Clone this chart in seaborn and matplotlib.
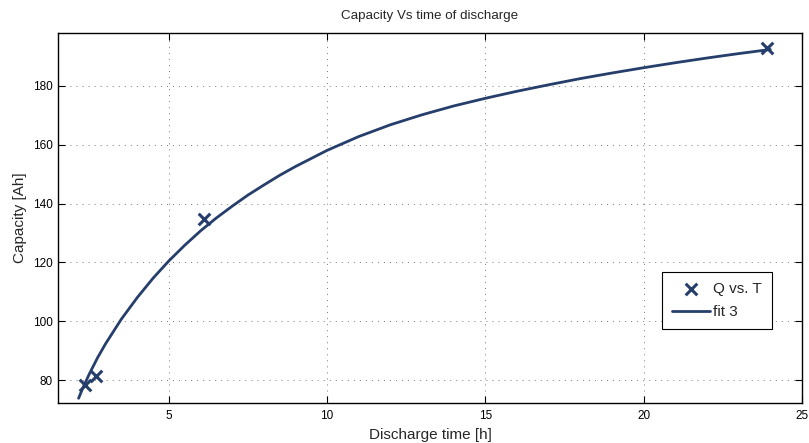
import matplotlib
matplotlib.use("Agg")
import matplotlib.pyplot as plt
import seaborn as sns
import pandas as pd

# measured data
time_h = [2.35, 2.7, 6.1, 23.9]
capacity_ah = [78.3, 81.4, 134.6, 192.9]

# fitted curve
fit_t = [2.15, 2.3, 2.5, 2.75, 3.0, 3.5, 4.0, 4.5, 5.0, 5.5, 6.0, 6.5, 7.0, 7.5,
         8.0, 8.5, 9.0, 10.0, 11.0, 12.0, 13.0, 14.0, 15.0, 16.0, 17.0, 18.0, 19.0,
         20.0, 21.0, 22.0, 23.0, 24.0]
fit_q = [73.8, 77.7, 82.3, 87.6, 92.3, 100.7, 108.0, 114.6, 120.5, 125.8, 130.7,
         135.1, 139.1, 142.9, 146.3, 149.6, 152.6, 158.1, 162.8, 166.8, 170.2, 173.2,
         175.8, 178.2, 180.4, 182.5, 184.4, 186.2, 187.9, 189.5, 191.0, 192.4]

x_ticks = [5, 10, 15, 20, 25]
y_ticks = [80, 100, 120, 140, 160, 180]

sns.set_theme(style="white")
plt.rcParams['font.family'] = ['Liberation Sans', 'DejaVu Sans']

color = "#263e6b"
fig = plt.figure(figsize=(8.09, 4.43), dpi=100)
ax = fig.add_axes([58/809, 1-403/443, (802-58)/809, (403-33)/443])

pts = pd.DataFrame({"t": time_h, "q": capacity_ah})
fit = pd.DataFrame({"t": fit_t, "q": fit_q})

sns.scatterplot(data=pts, x="t", y="q", marker="x", s=70, color=color,
                linewidth=2.2, ax=ax, label="Q vs. T", zorder=3)
sns.lineplot(data=fit, x="t", y="q", color=color, linewidth=2.0, ax=ax,
             label="fit 3", sort=True, estimator=None)

ax.set_xlim(1.5, 25)
ax.set_ylim(72.2, 198)
ax.set_xticks(x_ticks)
ax.set_yticks(y_ticks)
ax.tick_params(direction="in", length=5, width=0.8, labelsize=8.5, colors="black",
               top=True, right=True, bottom=True, left=True, pad=4)
ax.tick_params(axis="x", pad=5)
ax.grid(True, linestyle=(0, (1, 5.2)), color="#777777", linewidth=0.7)
for s in ax.spines.values():
    s.set_color("black")
    s.set_linewidth(1.0)

ax.set_xlabel("Discharge time [h]", fontsize=11, labelpad=4)
ax.set_ylabel("Capacity [Ah]", fontsize=11, labelpad=4)
ax.set_title("Capacity Vs time of discharge", fontsize=9.6, pad=10)

leg = ax.legend(loc="lower right", bbox_to_anchor=(772/809, 1-329/443),
                bbox_transform=fig.transFigure, fontsize=11, frameon=True,
                fancybox=False, edgecolor="black", framealpha=1,
                handlelength=2.5, handletextpad=0.2, borderpad=0.65,
                labelspacing=0.6, borderaxespad=0)
leg.get_frame().set_linewidth(0.8)

fig.savefig("out.png", dpi=100)
